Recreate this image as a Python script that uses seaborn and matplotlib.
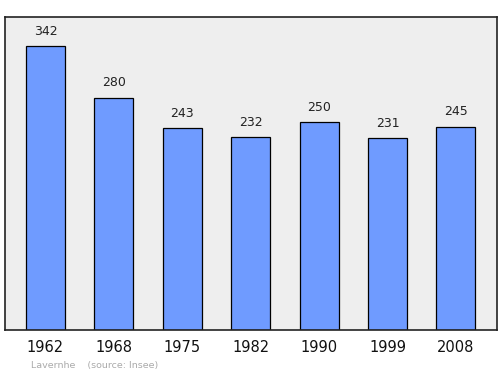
import matplotlib
matplotlib.use("Agg")
import matplotlib.pyplot as plt
import seaborn as sns
import pandas as pd

years = ["1962", "1968", "1975", "1982", "1990", "1999", "2008"]
population = [342, 280, 243, 232, 250, 231, 245]

df = pd.DataFrame({"year": years, "pop": population})

sns.set_theme(style="white")
plt.rcParams['font.family'] = ['DejaVu Sans']

fig = plt.figure(figsize=(5, 3.74), dpi=100)
ax = fig.add_axes([0.01, 0.1176, 0.984, 0.837])
ax.set_facecolor("#eeeeee")

sns.barplot(data=df, x="year", y="pop", color="#6f9bff", saturation=1,
            width=0.57, edgecolor="black", linewidth=0.9, ax=ax)

for i, v in enumerate(population):
    ax.annotate(str(v), (i, v), xytext=(0, 6), textcoords="offset points",
                ha="center", va="bottom", fontsize=9, color="#222222")

ax.set_xlim(-0.592, 6.60)
ax.set_ylim(0, 377)
ax.set_yticks([])
ax.set_xlabel("")
ax.set_ylabel("")
ax.tick_params(axis="x", length=0, labelsize=10.5, pad=7, colors="#111111")
for s in ax.spines.values():
    s.set_visible(True)
    s.set_color("#222222")
    s.set_linewidth(1.2)

fig.text(0.062, 0.012, "Lavernhe    (source: Insee)", fontsize=6.8, color="#aaaaaa",
         ha="left", va="bottom")

fig.savefig("out.png", dpi=100, facecolor="white")
